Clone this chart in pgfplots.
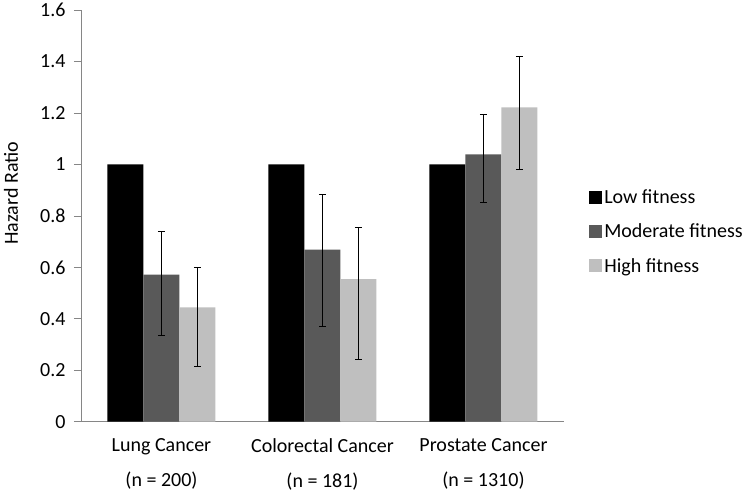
\documentclass[border=0pt]{standalone}
\usepackage{pgfplots}
\pgfplotsset{compat=1.18}
\usepackage{fontspec}
\setmainfont{Carlito}
\definecolor{modgray}{HTML}{595959}
\definecolor{higray}{HTML}{BFBFBF}
\definecolor{axgray}{HTML}{868686}
\begin{document}
\begin{tikzpicture}
\begin{axis}[
  scale only axis,
  width=483bp, height=411.5bp,
  ymin=0, ymax=1.6,
  ytick={0,0.2,...,1.6},
  yticklabels={0,0.2,0.4,0.6,0.8,1,1.2,1.4,1.6},
  xmin=-0.5, xmax=2.5,
  xtick={0,1,2},
  xticklabels={Lung Cancer\\(n = 200), Colorectal Cancer\\(n = 181), Prostate Cancer\\(n = 1310)},
  xticklabel style={align=center, font=\fontsize{20bp}{35bp}\selectfont, yshift=-6bp},
  yticklabel style={font=\fontsize{20bp}{24bp}\selectfont, xshift=-5bp},
  /pgf/number format/assume math mode=true,
  major x tick style={draw=none},
  extra x ticks={-0.5,0.5,1.5,2.5},
  extra x tick labels={},
  extra x tick style={major tick length=7bp, tick style={draw=axgray, line width=0.8pt}},
  tick align=outside,
  major tick length=7bp,
  ytick style={draw=axgray, line width=0.8pt},
  axis x line*=bottom,
  axis y line*=left,
  axis line style={draw=axgray, line width=0.8pt},
  ybar=0pt,
  bar width=36bp,
  clip=false,
  ylabel={\fontsize{20bp}{24bp}\selectfont Hazard Ratio},
  ylabel style={at={(axis description cs:-0.145,0.555)}, anchor=center},
  legend style={draw=none, at={(axis description cs:1.052,0.462)}, anchor=west,
    font=\fontsize{20bp}{24bp}\selectfont, row sep=15bp, inner sep=0pt,
    /tikz/every even column/.append style={column sep=5bp}},
  legend cell align=left,
  legend image code/.code={\fill[#1] (0bp,-6.5bp) rectangle (13bp,6.5bp);},
  error bars/error bar style={black, line width=0.8pt},
  error bars/error mark options={rotate=90, mark size=3.5bp, black, line width=0.8pt},
]
\addplot+[fill=black, draw=none] coordinates {(0,1) (1,1) (2,1)};
\addplot+[fill=modgray, draw=none, error bars/.cd, y dir=both, y explicit] coordinates {
  (0,0.572) += (0,0.167) -= (0,0.237)
  (1,0.669) += (0,0.214) -= (0,0.299)
  (2,1.039) += (0,0.156) -= (0,0.187)
};
\addplot+[fill=higray, draw=none, error bars/.cd, y dir=both, y explicit] coordinates {
  (0,0.444) += (0,0.155) -= (0,0.230)
  (1,0.554) += (0,0.200) -= (0,0.312)
  (2,1.222) += (0,0.198) -= (0,0.242)
};
\legend{Low fitness, Moderate fitness, High fitness}
\path (rel axis cs:-0.1677,-0.1786) rectangle (rel axis cs:1.3851,1.017);
\end{axis}
\end{tikzpicture}
\end{document}
